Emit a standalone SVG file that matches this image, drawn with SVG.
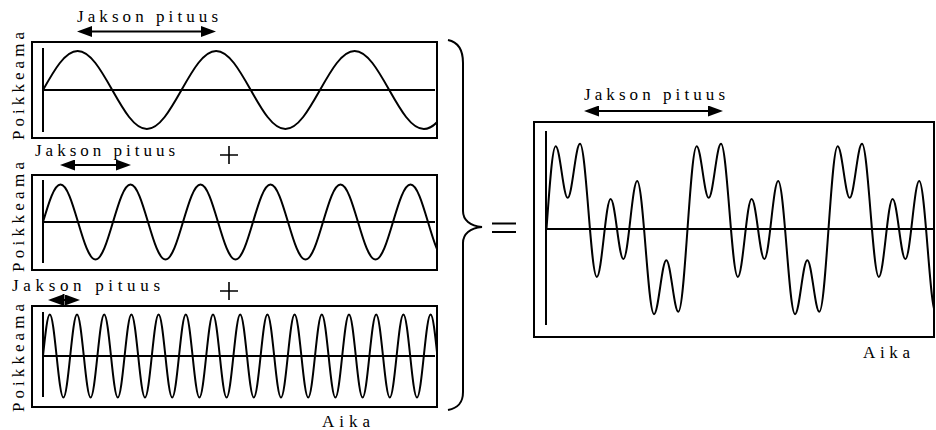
<svg xmlns="http://www.w3.org/2000/svg" width="936" height="430" viewBox="0 0 936 430">
<style>
.box{fill:none;stroke:#000;stroke-width:2}
.axis{stroke:#000;stroke-width:2;fill:none}
.wave{fill:none;stroke:#000;stroke-width:2;stroke-linejoin:round}
.dim{stroke:#000;stroke-width:2;fill:none}
.lbl{font-family:"Liberation Serif","Times New Roman",serif;font-size:17px;fill:#000}
.sym{stroke:#000;stroke-width:1.6;fill:none}
</style>
<defs>
<marker id="head" viewBox="0 0 15 11" refX="11" refY="5.5" markerWidth="15" markerHeight="11" markerUnits="userSpaceOnUse" orient="auto-start-reverse">
<path d="M0,0 L15,5.5 L0,11 z" fill="#000"/>
</marker>
<clipPath id="c1"><rect x="32" y="42" width="405" height="96"/></clipPath>
<clipPath id="c2"><rect x="32" y="175" width="405" height="95"/></clipPath>
<clipPath id="c3"><rect x="32" y="306" width="405" height="101"/></clipPath>
<clipPath id="c4"><rect x="534" y="122" width="400" height="215"/></clipPath>
</defs>
<rect width="936" height="430" fill="#fff"/>

<g id="panel1">
<rect class="box" x="32" y="42" width="405" height="96"/>
<line class="axis" x1="43" y1="48" x2="43" y2="132"/>
<line class="axis" x1="43" y1="90" x2="435" y2="90"/>
<path class="wave" clip-path="url(#c1)" d="M43,90 c11.29,-19.98 22.09,-39 34.63,-39 s23.33,19.02 34.62,39 s22.09,39 34.63,39 s23.33,-19.02 34.62,-39 s22.09,-39 34.63,-39 s23.33,19.02 34.62,39 s22.09,39 34.63,39 s23.33,-19.02 34.62,-39 s22.09,-39 34.63,-39 s23.33,19.02 34.62,39 s22.09,39 34.63,39 s23.33,-19.02 34.62,-39"/>
<text class="lbl" transform="translate(23.5,140) rotate(-90)" textLength="108" lengthAdjust="spacing">Poikkeama</text>
<text class="lbl" x="77" y="21.5" textLength="141" lengthAdjust="spacing">Jakson pituus</text>
</g>

<g id="panel2">
<rect class="box" x="32" y="175" width="405" height="95"/>
<line class="axis" x1="43" y1="180" x2="43" y2="263"/>
<line class="axis" x1="43" y1="222" x2="435" y2="222"/>
<path class="wave" clip-path="url(#c2)" d="M43,222 c5.71,-19.21 11.17,-37.5 17.5,-37.5 s11.79,18.29 17.5,37.5 s11.17,37.5 17.5,37.5 s11.79,-18.29 17.5,-37.5 s11.17,-37.5 17.5,-37.5 s11.79,18.29 17.5,37.5 s11.17,37.5 17.5,37.5 s11.79,-18.29 17.5,-37.5 s11.17,-37.5 17.5,-37.5 s11.79,18.29 17.5,37.5 s11.17,37.5 17.5,37.5 s11.79,-18.29 17.5,-37.5 s11.17,-37.5 17.5,-37.5 s11.79,18.29 17.5,37.5 s11.17,37.5 17.5,37.5 s11.79,-18.29 17.5,-37.5 s11.17,-37.5 17.5,-37.5 s11.79,18.29 17.5,37.5 s11.17,37.5 17.5,37.5 s11.79,-18.29 17.5,-37.5 s11.17,-37.5 17.5,-37.5 s11.79,18.29 17.5,37.5 s11.17,37.5 17.5,37.5"/>
<text class="lbl" transform="translate(23.5,272) rotate(-90)" textLength="110" lengthAdjust="spacing">Poikkeama</text>
<text class="lbl" x="35" y="156" textLength="140" lengthAdjust="spacing">Jakson pituus</text>
</g>

<g id="panel3">
<rect class="box" x="32" y="306" width="405" height="101"/>
<line class="axis" x1="43" y1="312" x2="43" y2="397"/>
<line class="axis" x1="43" y1="356" x2="435" y2="356"/>
<path class="wave" clip-path="url(#c3)" d="M43,356 c2.22,-21.26 4.34,-41.5 6.8,-41.5
s4.58,20.24 6.8,41.5 s4.34,41.5 6.8,41.5 s4.58,-20.24 6.8,-41.5 s4.34,-41.5 6.8,-41.5
s4.58,20.24 6.8,41.5 s4.34,41.5 6.8,41.5 s4.58,-20.24 6.8,-41.5 s4.34,-41.5 6.8,-41.5
s4.58,20.24 6.8,41.5 s4.34,41.5 6.8,41.5 s4.58,-20.24 6.8,-41.5 s4.34,-41.5 6.8,-41.5
s4.58,20.24 6.8,41.5 s4.34,41.5 6.8,41.5 s4.58,-20.24 6.8,-41.5 s4.34,-41.5 6.8,-41.5
s4.58,20.24 6.8,41.5 s4.34,41.5 6.8,41.5 s4.58,-20.24 6.8,-41.5 s4.34,-41.5 6.8,-41.5
s4.58,20.24 6.8,41.5 s4.34,41.5 6.8,41.5 s4.58,-20.24 6.8,-41.5 s4.34,-41.5 6.8,-41.5
s4.58,20.24 6.8,41.5 s4.34,41.5 6.8,41.5 s4.58,-20.24 6.8,-41.5 s4.34,-41.5 6.8,-41.5
s4.58,20.24 6.8,41.5 s4.34,41.5 6.8,41.5 s4.58,-20.24 6.8,-41.5 s4.34,-41.5 6.8,-41.5
s4.58,20.24 6.8,41.5 s4.34,41.5 6.8,41.5 s4.58,-20.24 6.8,-41.5 s4.34,-41.5 6.8,-41.5
s4.58,20.24 6.8,41.5 s4.34,41.5 6.8,41.5 s4.58,-20.24 6.8,-41.5 s4.34,-41.5 6.8,-41.5
s4.58,20.24 6.8,41.5 s4.34,41.5 6.8,41.5 s4.58,-20.24 6.8,-41.5 s4.34,-41.5 6.8,-41.5
s4.58,20.24 6.8,41.5 s4.34,41.5 6.8,41.5 s4.58,-20.24 6.8,-41.5 s4.34,-41.5 6.8,-41.5
s4.58,20.24 6.8,41.5 s4.34,41.5 6.8,41.5 s4.58,-20.24 6.8,-41.5 s4.34,-41.5 6.8,-41.5
s4.58,20.24 6.8,41.5 s4.34,41.5 6.8,41.5 s4.58,-20.24 6.8,-41.5 s4.34,-41.5 6.8,-41.5
s4.58,20.24 6.8,41.5"/>
<text class="lbl" transform="translate(23.5,412) rotate(-90)" textLength="108" lengthAdjust="spacing">Poikkeama</text>
<text class="lbl" x="12" y="290.5" textLength="148" lengthAdjust="spacing">Jakson pituus</text>
<text class="lbl" x="322" y="427" textLength="48" lengthAdjust="spacing">Aika</text>
</g>

<g id="operators">
<path class="sym" d="M220,155 H238 M229,146 V164"/>
<path class="sym" d="M220,291 H238 M229,282 V300"/>
<path id="brace" class="axis" d="M448,40 C458,42 463,50 463,63 L463,211 C463,220 470,226 482,227 C470,228 463,234 463,243 L463,392 C463,403 458,408 448,410"/>
<path id="equals" class="axis" d="M492,223.5 H516 M492,232 H516"/>
</g>

<g id="result">
<rect class="box" x="534" y="122" width="400" height="215"/>
<line class="axis" x1="546" y1="131" x2="546" y2="325"/>
<line class="axis" x1="546" y1="229" x2="934" y2="229"/>
<path class="wave" clip-path="url(#c4)" d="M546.5,229 c2.99,-42.39 5.85,-82.74 9.17,-82.74
c2.18,0 4.05,12.58 6.01,25.79 s3.84,25.79 6.01,25.79 c2.23,0 4.14,-13.17 6.15,-27 s3.92,-27 6.15,-27 c3.05,0 5.67,32.44 8.42,66.53 s5.37,66.53 8.42,66.52 c2.5,0 4.65,-18.99 6.9,-38.93 s4.4,-38.93 6.89,-38.93 c2.31,0 4.3,14.62 6.38,29.97 s4.07,29.97 6.38,29.97 c2.5,0 4.65,-18.99 6.9,-38.93 s4.4,-38.93 6.89,-38.93 c3.05,0 5.67,32.44 8.42,66.53 s5.37,66.53 8.42,66.52 c2.23,0 4.14,-13.17 6.15,-27 s3.92,-27 6.15,-27 c2.18,0 4.05,12.58 6.01,25.79 s3.84,25.79 6.02,25.79 c3.32,0 6.17,-40.35 9.16,-82.74 s5.85,-82.74 9.17,-82.74
c2.18,0 4.05,12.58 6.01,25.79 s3.84,25.79 6.01,25.79 c2.23,0 4.14,-13.17 6.15,-27 s3.92,-27 6.15,-27 c3.05,0 5.67,32.44 8.42,66.53 s5.37,66.53 8.42,66.52 c2.5,0 4.65,-18.99 6.9,-38.93 s4.4,-38.93 6.89,-38.93 c2.31,0 4.3,14.62 6.38,29.97 s4.07,29.97 6.38,29.97 c2.5,0 4.65,-18.99 6.9,-38.93 s4.4,-38.93 6.89,-38.93 c3.05,0 5.67,32.44 8.42,66.53 s5.37,66.53 8.42,66.52 c2.23,0 4.14,-13.17 6.15,-27 s3.92,-27 6.15,-27 c2.18,0 4.05,12.58 6.01,25.79 s3.84,25.79 6.02,25.79 c3.32,0 6.17,-40.35 9.16,-82.74 s5.85,-82.74 9.17,-82.74
c2.18,0 4.05,12.58 6.01,25.79 s3.84,25.79 6.01,25.79 c2.23,0 4.14,-13.17 6.15,-27 s3.92,-27 6.15,-27 c3.05,0 5.67,32.44 8.42,66.53 s5.37,66.53 8.42,66.52 c2.5,0 4.65,-18.99 6.9,-38.93 s4.4,-38.93 6.89,-38.93 c2.31,0 4.3,14.62 6.38,29.97 s4.07,29.97 6.38,29.97 c2.5,0 4.65,-18.99 6.9,-38.93 s4.4,-38.93 6.89,-38.93 c3.05,0 5.67,32.44 8.42,66.53 s5.37,66.53 8.42,66.52"/>
<text class="lbl" x="584" y="99.5" textLength="141" lengthAdjust="spacing">Jakson pituus</text>
<text class="lbl" x="863" y="358" textLength="47" lengthAdjust="spacing">Aika</text>
</g>

<g id="connectors">
<line class="dim" x1="81" y1="31.5" x2="212" y2="31.5" marker-start="url(#head)" marker-end="url(#head)"/>
<line class="dim" x1="64" y1="165" x2="127" y2="165" marker-start="url(#head)" marker-end="url(#head)"/>
<line class="dim" x1="52" y1="300" x2="76" y2="300" marker-start="url(#head)" marker-end="url(#head)"/>
<line class="dim" x1="63.5" y1="294" x2="63.5" y2="306"/>
<line class="dim" x1="588" y1="111" x2="719" y2="111" marker-start="url(#head)" marker-end="url(#head)"/>
</g>
</svg>
